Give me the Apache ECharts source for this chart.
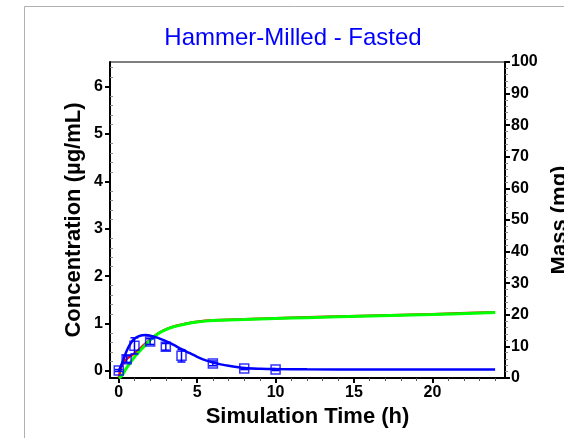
<!DOCTYPE html>
<html><head><meta charset="utf-8">
<script src="https://cdn.jsdelivr.net/npm/echarts@6/dist/echarts.min.js"></script>
<style>html,body{margin:0;padding:0;background:#fff}#c{width:564px;height:438px}</style>
</head><body><div id="c"></div>
<script>
var titleText = 'Hammer-Milled - Fasted';
var xName = 'Simulation Time (h)';
var yLeftName = 'Concentration (µg/mL)';
var yRightName = 'Mass (mg)';
var xTicks = [0, 5, 10, 15, 20];
var xMinorTicks = [1,2,3,4,6,7,8,9,11,12,13,14,16,17,18,19,21,22,23,24];
var yLeftTicks = [0, 1, 2, 3, 4, 5, 6];
var yLeftMinor = [0.2,0.4,0.6,0.8,1.2,1.4,1.6,1.8,2.2,2.4,2.6,2.8,3.2,3.4,3.6,3.8,4.2,4.4,4.6,4.8,5.2,5.4,5.6,5.8,6.2,6.4];

var simTime = [0,0.25,0.5,0.75,1,1.25,1.5,1.75,2,2.5,3,3.5,4,4.5,5,5.5,6,6.5,7,8,9,10,12,16,20,24];
var simConc = [0,0.2,0.42,0.58,0.68,0.73,0.755,0.76,0.745,0.70,0.63,0.55,0.46,0.38,0.30,0.23,0.18,0.14,0.11,0.065,0.048,0.04,0.035,0.033,0.032,0.032];

var obsTime = [0,0.5,1,2,3,4,6,8,10];
var obsConc = [0.01,0.25,0.53,0.62,0.51,0.32,0.16,0.05,0.03];
var obsErr  = [0.02,0.07,0.17,0.06,0.07,0.13,0.05,0.02,0.02];

var massTime = [0,0.1,0.2,0.5,1,1.5,2,2.5,3,3.5,4,4.5,5,5.5,6,8,10,12,16,20,24];
var massRed  = [0,2.5,4,6,7.8,10,12.2,14.1,15.4,16.3,16.9,17.4,17.8,18.1,18.3,18.6,18.9,19.2,19.7,20.2,20.8];
var massGreen= [0,0.3,0.8,3.2,6.6,9.4,12,14,15.3,16.2,16.8,17.3,17.7,18.0,18.2,18.5,18.8,19.1,19.6,20.1,20.7];

function zip(a, b) { return a.map(function (v, i) { return [v, b[i]]; }); }

var FONT = '"Liberation Sans", Arial, sans-serif';
var lbl = { fontFamily: FONT, fontSize: 16, fontWeight: 'bold', color: '#000' };

var chart = echarts.init(document.getElementById('c'), null, { renderer: 'canvas' });
chart.setOption({
  animation: false,
  backgroundColor: '#fff',
  graphic: [
    { type: 'polyline', shape: { points: [[24.5, 438], [24.5, 6.5], [564, 6.5]] }, style: { stroke: '#b0b0b0', lineWidth: 1, fill: null } },
    { type: 'text', x: 293, y: 38, style: { text: titleText, fontFamily: FONT, fontSize: 24, fill: '#0000ff', textAlign: 'center', textVerticalAlign: 'middle' } }
  ],
  grid: { left: 110, right: 59, top: 62, bottom: 60, show: true, borderColor: '#000', borderWidth: 1, backgroundColor: 'transparent', containLabel: false, outerBoundsMode: 'none' },
  xAxis: [
    { type: 'value', min: -0.56, max: 24.63, position: 'bottom',
      name: xName, nameLocation: 'middle', nameGap: 25,
      nameTextStyle: { fontFamily: FONT, fontSize: 22, fontWeight: 'bold', color: '#000' },
      axisLine: { onZero: false, lineStyle: { color: '#000', width: 2 } },
      axisTick: { show: true, length: 5, customValues: xTicks, lineStyle: { color: '#000', width: 2 } },
      axisLabel: Object.assign({ customValues: xTicks, margin: 7 }, lbl),
      splitLine: { show: false } },
    { type: 'value', min: -0.56, max: 24.63, position: 'bottom', gridIndex: 0,
      axisLine: { show: false, onZero: false },
      axisTick: { show: true, length: 3, customValues: xMinorTicks, lineStyle: { color: '#555', width: 1 } },
      axisLabel: { show: false }, splitLine: { show: false } }
  ],
  yAxis: [
    { type: 'value', min: -0.148, max: 6.52, position: 'left',
      name: yLeftName, nameLocation: 'middle', nameGap: 25, nameMoveOverlap: false,
      nameTextStyle: { fontFamily: FONT, fontSize: 22, fontWeight: 'bold', color: '#000' },
      axisLine: { show: true, onZero: false, lineStyle: { color: '#000', width: 2 } },
      axisTick: { show: true, length: 5, customValues: yLeftTicks, lineStyle: { color: '#000', width: 2 } },
      axisLabel: Object.assign({ customValues: yLeftTicks, margin: 7 }, lbl),
      splitLine: { show: false } },
    { type: 'value', min: 0, max: 100, interval: 10, position: 'right',
      name: yRightName, nameLocation: 'middle', nameGap: 43,
      nameTextStyle: { fontFamily: FONT, fontSize: 22, fontWeight: 'bold', color: '#000' },
      axisLine: { show: true, onZero: false, lineStyle: { color: '#000', width: 2 } },
      axisTick: { show: true, length: 5, lineStyle: { color: '#000', width: 2 } },
      minorTick: { show: true, splitNumber: 5, length: 3, lineStyle: { color: '#888', width: 1 } },
      axisLabel: Object.assign({ margin: 6 }, lbl),
      splitLine: { show: false } },
    { type: 'value', min: -0.148, max: 6.52, position: 'left',
      axisLine: { show: false, onZero: false },
      axisTick: { show: true, inside: true, length: 3, customValues: yLeftMinor, lineStyle: { color: '#888', width: 1 } },
      axisLabel: { show: false }, splitLine: { show: false } }
  ],
  series: [
    { type: 'line', yAxisIndex: 1, data: zip(massTime, massRed), showSymbol: false, smooth: 0.3,
      lineStyle: { color: '#ff0000', width: 2.5 }, z: 2 },
    { type: 'line', yAxisIndex: 1, data: zip(massTime, massGreen), showSymbol: false, smooth: 0.3,
      lineStyle: { color: '#00ff00', width: 3 }, z: 3 },
    { type: 'line', yAxisIndex: 0, data: zip(simTime, simConc), showSymbol: false, smooth: 0.3,
      lineStyle: { color: '#0000ff', width: 2.5 }, z: 4 },
    { type: 'custom', yAxisIndex: 0, z: 5,
      data: obsTime.map(function (t, i) { return [t, obsConc[i] - obsErr[i], obsConc[i] + obsErr[i]]; }),
      renderItem: function (params, api) {
        var lo = api.coord([api.value(0), api.value(1)]);
        var hi = api.coord([api.value(0), api.value(2)]);
        var w = 4;
        var st = { stroke: '#0000ff', lineWidth: 1.5, fill: null };
        return { type: 'group', children: [
          { type: 'line', shape: { x1: lo[0], y1: lo[1], x2: hi[0], y2: hi[1] }, style: st },
          { type: 'line', shape: { x1: lo[0] - w, y1: lo[1], x2: lo[0] + w, y2: lo[1] }, style: st },
          { type: 'line', shape: { x1: hi[0] - w, y1: hi[1], x2: hi[0] + w, y2: hi[1] }, style: st }
        ] };
      } },
    { type: 'scatter', yAxisIndex: 0, data: zip(obsTime, obsConc), symbol: 'rect', symbolSize: 9, z: 6,
      itemStyle: { color: 'rgba(0,0,0,0)', borderColor: '#0000ff', borderWidth: 1.5 } }
  ]
});
</script></body></html>
